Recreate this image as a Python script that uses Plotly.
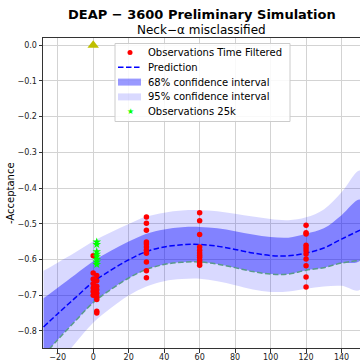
import plotly.graph_objects as go

# ---- data ----
grid_x = [-28, -20, -10, 0, 10, 20, 30, 40, 50, 60, 70, 80, 90, 100, 110, 120, 130, 140, 150.4]
pred_mean = [-0.789, -0.752, -0.707, -0.663, -0.630, -0.601, -0.578, -0.565, -0.559, -0.558,
             -0.563, -0.572, -0.582, -0.589, -0.590, -0.582, -0.568, -0.543, -0.518]
hi68 = [-0.709, -0.679, -0.642, -0.605, -0.576, -0.550, -0.528, -0.516, -0.510, -0.509,
        -0.513, -0.521, -0.530, -0.537, -0.539, -0.528, -0.513, -0.476, -0.433]
lo68 = [-0.869, -0.825, -0.772, -0.721, -0.684, -0.652, -0.628, -0.614, -0.608, -0.607,
        -0.613, -0.623, -0.634, -0.641, -0.641, -0.630, -0.623, -0.610, -0.603]
hi95 = [-0.632, -0.609, -0.580, -0.549, -0.524, -0.501, -0.480, -0.469, -0.463, -0.462,
        -0.465, -0.472, -0.480, -0.487, -0.490, -0.482, -0.460, -0.412, -0.351]
lo95 = [-0.946, -0.895, -0.834, -0.777, -0.736, -0.701, -0.676, -0.661, -0.655, -0.654,
        -0.661, -0.672, -0.684, -0.691, -0.690, -0.682, -0.676, -0.674, -0.685]

obs_x = ([0] * 7 + [2] * 9 + [30] * 11 + [60] * 11 + [120] * 11)
obs_y = ([-0.590, -0.638, -0.655, -0.668, -0.680, -0.690, -0.700] +
         [-0.645, -0.660, -0.675, -0.685, -0.695, -0.705, -0.712, -0.745, -0.750] +
         [-0.481, -0.499, -0.518, -0.551, -0.557, -0.565, -0.574, -0.583, -0.607, -0.632, -0.651] +
         [-0.469, -0.492, -0.530, -0.565, -0.574, -0.582, -0.588, -0.594, -0.602, -0.610, -0.616] +
         [-0.504, -0.525, -0.529, -0.560, -0.568, -0.576, -0.585, -0.599, -0.618, -0.649, -0.677])

obs25_x = [2] * 8
obs25_y = [-0.551, -0.558, -0.578, -0.585, -0.592, -0.600, -0.607, -0.614]

ref_x = [0]
ref_y = [0.0]

x_ticks = [-20, 0, 20, 40, 60, 80, 100, 120, 140]
y_ticks = [-0.8, -0.7, -0.6, -0.5, -0.4, -0.3, -0.2, -0.1, 0.0]

legend_labels = ["Observations Time Filtered", "Prediction", "68% confidence interval",
                 "95% confidence interval", "Observations 25k"]

FONT = "DejaVu Sans"
W, H = 360, 361
PLOT_TOP, PLOT_BOTTOM, PLOT_LEFT = 38, 348, 43
PH = PLOT_BOTTOM - PLOT_TOP
PW = W - PLOT_LEFT

C_RED = "#ff0000"
C_PRED = "#0000ff"
C_68 = "rgba(0,0,255,0.40)"
C_95 = "rgba(0,0,255,0.15)"
C_25K = "#00ff00"
DASH = "5.5px,2.5px"


def px_x(px):
    return (px - PLOT_LEFT) / PW


def px_y(py):
    return (PLOT_BOTTOM - py) / PH


fig = go.Figure()

fig.add_trace(go.Scatter(
    x=grid_x + grid_x[::-1], y=hi95 + lo95[::-1], fill="toself",
    fillcolor=C_95, line=dict(width=0, shape="spline"),
    mode="lines", name=legend_labels[3], showlegend=False, hoverinfo="skip"))
fig.add_trace(go.Scatter(
    x=grid_x + grid_x[::-1], y=hi68 + lo68[::-1], fill="toself",
    fillcolor=C_68, line=dict(width=0, shape="spline"),
    mode="lines", name=legend_labels[2], showlegend=False, hoverinfo="skip"))
fig.add_trace(go.Scatter(
    x=grid_x, y=lo68, mode="lines", showlegend=False,
    line=dict(color="#5a9a8a", width=1.5, dash=DASH, shape="spline")))
fig.add_trace(go.Scatter(
    x=grid_x, y=pred_mean, mode="lines", name=legend_labels[1], showlegend=False,
    line=dict(color=C_PRED, width=1.5, dash=DASH, shape="spline")))
fig.add_trace(go.Scatter(
    x=obs_x, y=obs_y, mode="markers", name=legend_labels[0], showlegend=False,
    marker=dict(color=C_RED, size=5.5, line=dict(width=0))))
fig.add_trace(go.Scatter(
    x=obs25_x, y=obs25_y, mode="markers", name=legend_labels[4], showlegend=False,
    marker=dict(color=C_25K, size=6.5, symbol="star", line=dict(width=0))))
fig.add_trace(go.Scatter(
    x=ref_x, y=ref_y, mode="markers", showlegend=False,
    marker=dict(color="#bfbf00", size=10, symbol="triangle-up", line=dict(width=0))))

axis_common = dict(
    showline=True, linecolor="#333333", linewidth=1, mirror=True,
    showgrid=True, gridcolor="#d3d3d3", gridwidth=1, zeroline=False,
    ticks="outside", ticklen=3.5, tickcolor="#333333", tickwidth=1,
    tickfont=dict(family=FONT, size=8, color="#222222"),
    automargin=False,
)

fig.update_xaxes(range=[-28.3, 150.4], tickvals=x_ticks, ticklabelstandoff=-2, **axis_common)
fig.update_yaxes(range=[-0.848, 0.02], tickvals=y_ticks, tickformat=".1f", **axis_common)

# ---- hand-built legend (matplotlib-like compact spacing) ----
shapes = [
    dict(type="rect", xref="paper", yref="paper", layer="above",
         x0=px_x(115), x1=px_x(290), y0=px_y(43.5), y1=px_y(121.5),
         fillcolor="rgba(255,255,255,0.85)", line=dict(color="#cccccc", width=1)),
]
rows = [52.5, 67.3, 82.1, 96.9, 111.7]
shapes.append(dict(type="circle", xref="paper", yref="paper", layer="above",
                   x0=px_x(127.5), x1=px_x(132.5), y0=px_y(rows[0] + 2.5), y1=px_y(rows[0] - 2.5),
                   fillcolor=C_RED, line=dict(width=0)))
shapes.append(dict(type="line", xref="paper", yref="paper", layer="above",
                   x0=px_x(118), x1=px_x(141), y0=px_y(rows[1]), y1=px_y(rows[1]),
                   line=dict(color=C_PRED, width=1.5, dash=DASH)))
shapes.append(dict(type="rect", xref="paper", yref="paper", layer="above",
                   x0=px_x(118), x1=px_x(141), y0=px_y(rows[2] + 3.5), y1=px_y(rows[2] - 3.5),
                   fillcolor=C_68, line=dict(width=0)))
shapes.append(dict(type="rect", xref="paper", yref="paper", layer="above",
                   x0=px_x(118), x1=px_x(141), y0=px_y(rows[3] + 3.5), y1=px_y(rows[3] - 3.5),
                   fillcolor=C_95, line=dict(width=0)))

annotations = [
    dict(text="<b>DEAP − 3600 Preliminary Simulation</b>", xref="paper", yref="paper",
         x=0.5, y=px_y(14), yanchor="middle", xanchor="center",
         showarrow=False, font=dict(family=FONT, size=13, color="#000000")),
    dict(text="Neck−α misclassified", xref="paper", yref="paper",
         x=0.5, y=px_y(30), yanchor="middle", xanchor="center",
         showarrow=False, font=dict(family=FONT, size=12, color="#000000")),
    dict(text="-Acceptance", xref="paper", yref="paper",
         x=px_x(10), y=0.5, xanchor="center", yanchor="middle",
         textangle=-90, showarrow=False, font=dict(family=FONT, size=10, color="#000000")),
    dict(text="★", xref="paper", yref="paper", x=px_x(130), y=px_y(rows[4]),
         xanchor="center", yanchor="middle", showarrow=False,
         font=dict(family=FONT, size=8, color=C_25K)),
]
for label, r in zip(legend_labels, rows):
    annotations.append(dict(text=label, xref="paper", yref="paper", x=px_x(146), y=px_y(r),
                            xanchor="left", yanchor="middle", showarrow=False,
                            font=dict(family=FONT, size=10, color="#000000")))

fig.update_layout(
    width=W, height=H,
    margin=dict(l=PLOT_LEFT, r=0, t=PLOT_TOP, b=H - PLOT_BOTTOM, autoexpand=False),
    paper_bgcolor="white", plot_bgcolor="white",
    font=dict(family=FONT, color="#000000"),
    showlegend=False,
    shapes=shapes,
    annotations=annotations,
)

fig.write_html("out.html", config={"displayModeBar": False},
               post_script="document.body.style.margin='0';")
